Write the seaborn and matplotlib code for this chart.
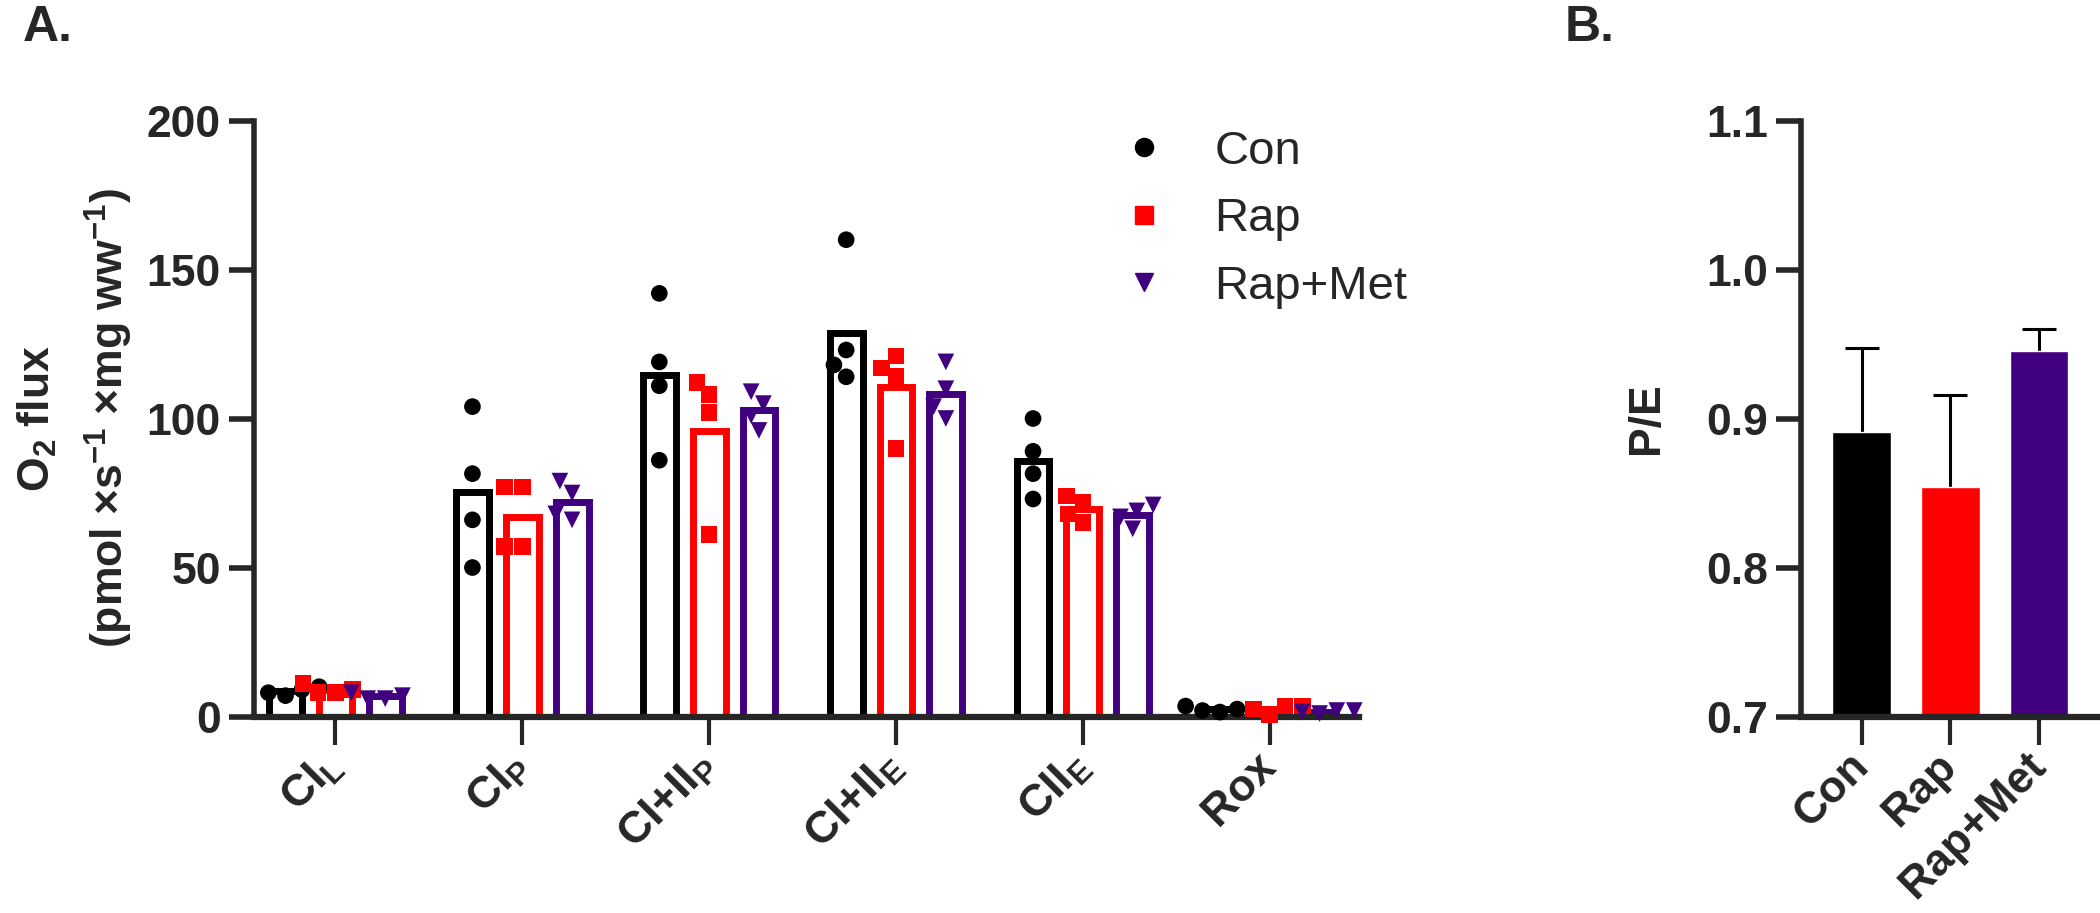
import numpy as np
import pandas as pd
import matplotlib
matplotlib.use('Agg')
import matplotlib.pyplot as plt
from matplotlib.lines import Line2D
import seaborn as sns

states = ['CI_L', 'CI_P', 'CI+II_P', 'CI+II_E', 'CII_E', 'Rox']
state_labels = ['CI$_L$', 'CI$_P$', 'CI+II$_P$', 'CI+II$_E$', 'CII$_E$', 'Rox']
groups = ['Con', 'Rap', 'Rap+Met']
colors = ['#000000', '#FF0000', '#400080']
markers = ['o', 's', 'v']

# individual O2 flux values (4 per group and state)
con_flux = [[10, 9, 8, 7], [104, 81.5, 66, 50], [142, 119, 111, 86],
            [160, 123, 118, 114], [100, 89, 81.5, 73], [3.5, 2.5, 1.5, 2]]
rap_flux = [[11, 9, 8, 8], [77, 77, 57, 57], [112, 108, 102, 61],
            [121, 117, 114, 90], [74, 72, 68, 65], [3.5, 3.5, 2.5, 0.7]]
met_flux = [[8, 7, 6, 6], [79, 75, 68, 66], [109, 105, 101, 96],
            [119, 110, 104, 100], [71, 69, 67, 63], [2, 1.5, 2, 1]]

# P/E ratio, mean and SEM
pe_mean = [0.891, 0.854, 0.945]
pe_sem = [0.056, 0.062, 0.015]

rows = []
for g, vals in zip(groups, [con_flux, rap_flux, met_flux]):
    for s, v in zip(states, vals):
        for x in v:
            rows.append({'state': s, 'group': g, 'flux': x})
df = pd.DataFrame(rows)

sns.set_style('ticks')
plt.rcParams['font.family'] = ['Liberation Sans', 'DejaVu Sans']
plt.rcParams['mathtext.default'] = 'regular'
FS = 32

fig = plt.figure(figsize=(21, 9.13), dpi=100)
ax1 = fig.add_axes([0.121, 0.2152, 0.526, 0.6528])
ax2 = fig.add_axes([0.8576, 0.2152, 0.1424, 0.6528])

# panel A
sns.barplot(data=df, x='state', y='flux', hue='group', order=states, hue_order=groups,
            palette=colors, fill=False, linewidth=5, gap=0.34, width=0.8, errorbar=None,
            saturation=1, legend=False, ax=ax1)
for g, c, m in zip(groups, colors, markers):
    sns.swarmplot(data=df[df.group == g], x='state', y='flux', hue='group', order=states,
                  hue_order=groups, palette=colors, dodge=True, marker=m,
                  size=12, linewidth=0, legend=False, warn_thresh=1, ax=ax1)
for coll in ax1.collections:
    coll.set_clip_on(False)
    coll.set_zorder(5)

ax1.set_ylim(0, 200)
ax1.set_yticks([0, 50, 100, 150, 200])
ax1.set_xlim(-0.435, 5.476)
ax1.set_xticks(range(len(states)))
ax1.set_xticklabels(state_labels, rotation=45, ha='right', va='center',
                    rotation_mode='anchor')
ax1.set_xlabel('')
ax1.set_ylabel('O$_2$ flux\n(pmol $\\times$s$^{-1}$ $\\times$mg ww$^{-1}$)', fontsize=FS,
               fontweight='bold', labelpad=8, linespacing=1.6)

handles = [Line2D([], [], marker=m, color=c, linestyle='', markersize=13)
           for c, m in zip(colors, markers)]
fig.legend(handles, groups, loc='upper left', bbox_to_anchor=(1054 / 2100, 1 - 87 / 913),
           frameon=False, fontsize=34, handletextpad=0.5, labelspacing=0.5)

# panel B
sns.barplot(x=groups, y=pe_mean, hue=groups, palette=colors, width=0.66,
            saturation=1, legend=False, ax=ax2, zorder=2)
eb = ax2.errorbar(range(3), pe_mean, yerr=[np.zeros(3), pe_sem], fmt='none',
                  ecolor='black', elinewidth=2.2, capsize=12, capthick=2.2, zorder=1)
for cap in eb[1]:
    if np.allclose(cap.get_ydata(), pe_mean):
        cap.set_visible(False)
ax2.set_ylim(0.7, 1.1)
ax2.set_yticks([0.7, 0.8, 0.9, 1.0, 1.1])
ax2.set_yticklabels(['0.7', '0.8', '0.9', '1.0', '1.1'])
ax2.set_xlim(-0.685, 2.685)
ax2.set_xticks(range(3))
ax2.set_xticklabels(groups, rotation=45, ha='right', va='center', rotation_mode='anchor')
ax2.set_ylabel('P/E', fontsize=FS, fontweight='bold', labelpad=28)

for ax in (ax1, ax2):
    sns.despine(ax=ax)
    ax.spines['left'].set_linewidth(4)
    ax.spines['bottom'].set_linewidth(4.5)
    ax.tick_params(axis='y', length=18, width=4, labelsize=FS, pad=6)
    ax.tick_params(axis='x', length=20, width=3, labelsize=FS, pad=11)
    for lab in ax.get_xticklabels() + ax.get_yticklabels():
        lab.set_fontweight('bold')

fig.text(0.011, 0.995, 'A.', fontsize=36, fontweight='bold', va='top')
fig.text(0.745, 0.995, 'B.', fontsize=36, fontweight='bold', va='top')

fig.savefig('out.png', dpi=100)
